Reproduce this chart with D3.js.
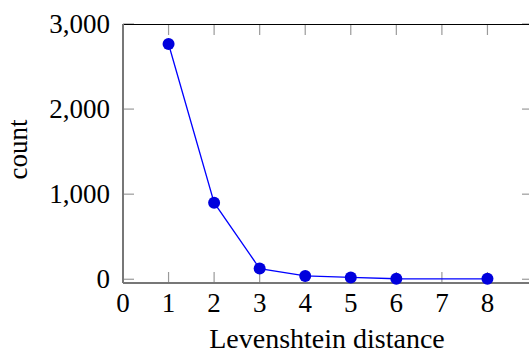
<html lang="en">
<head>
    <meta charset="UTF-8">
    <title>Levenshtein distance counts</title>
    <script src="https://d3js.org/d3.v7.min.js"></script>
    <style>
        body { margin: 0; background: #fff; }
        svg { font-family: "Liberation Serif", "DejaVu Serif", serif; }
    </style>
</head>
<body>
    <script>
        // data
        const distances = [1, 2, 3, 4, 5, 6, 8];
        const counts = [2765, 900, 126, 39, 22, 6, 5];
        const xTicks = [0, 1, 2, 3, 4, 5, 6, 7, 8];
        const yTicks = [0, 1000, 2000, 3000];

        const width = 529, height = 354;
        const margin = { top: 24, right: -4, bottom: 71, left: 123 };

        const x = d3.scaleLinear()
            .domain([0, 9])
            .range([margin.left, width - margin.right]);

        const y = d3.scaleLinear()
            .domain([-44, 3000])
            .range([height - margin.bottom, margin.top]);

        const svg = d3.select("body").append("svg")
            .attr("width", width)
            .attr("height", height);

        const xLeft = margin.left, xRight = width - margin.right;
        const yTop = margin.top, yBottom = height - margin.bottom;
        const tickLen = 11;

        // ticks (inward, on all four sides)
        const ticks = svg.append("g").attr("stroke", "#9a9a9a").attr("stroke-width", 1.2);
        ticks.append("g").selectAll("line").data(xTicks).join("line")
            .attr("x1", d => x(d)).attr("x2", d => x(d))
            .attr("y1", yBottom).attr("y2", yBottom - tickLen);
        ticks.append("g").selectAll("line").data(xTicks).join("line")
            .attr("x1", d => x(d)).attr("x2", d => x(d))
            .attr("y1", yTop).attr("y2", yTop + tickLen);
        ticks.append("g").selectAll("line").data(yTicks).join("line")
            .attr("x1", xLeft).attr("x2", xLeft + tickLen)
            .attr("y1", d => y(d)).attr("y2", d => y(d));
        ticks.append("g").selectAll("line").data(yTicks).join("line")
            .attr("x1", xRight).attr("x2", xRight - tickLen)
            .attr("y1", d => y(d)).attr("y2", d => y(d));

        // frame
        svg.append("line").attr("x1", xLeft).attr("x2", xRight)
            .attr("y1", yTop + 0.5).attr("y2", yTop + 0.5)
            .attr("stroke", "#000").attr("stroke-width", 1.2);
        svg.append("line").attr("x1", xRight).attr("x2", xRight)
            .attr("y1", yTop).attr("y2", yBottom)
            .attr("stroke", "#000").attr("stroke-width", 1.2);
        svg.append("line").attr("x1", xLeft).attr("x2", xLeft)
            .attr("y1", yTop).attr("y2", yBottom)
            .attr("stroke", "#777").attr("stroke-width", 2);
        svg.append("line").attr("x1", xLeft).attr("x2", xRight)
            .attr("y1", yBottom).attr("y2", yBottom)
            .attr("stroke", "#777").attr("stroke-width", 2);

        // tick labels
        svg.append("g").selectAll("text").data(xTicks).join("text")
            .attr("x", d => x(d))
            .attr("y", 312)
            .attr("text-anchor", "middle")
            .style("font-size", "27px")
            .text(d => d);

        svg.append("g").selectAll("text").data(yTicks).join("text")
            .attr("x", 110)
            .attr("y", d => y(d))
            .attr("dy", "0.34em")
            .attr("text-anchor", "end")
            .style("font-size", "27px")
            .text(d => d3.format(",")(d));

        // line and markers
        const pts = distances.map((d, i) => [d, counts[i]]);
        svg.append("path")
            .datum(pts)
            .attr("fill", "none")
            .attr("stroke", "#0000ff")
            .attr("stroke-width", 1.3)
            .attr("d", d3.line().x(d => x(d[0])).y(d => y(d[1])));

        svg.append("g").selectAll("circle").data(pts).join("circle")
            .attr("cx", d => x(d[0]))
            .attr("cy", d => y(d[1]))
            .attr("r", 6)
            .attr("fill", "#0000dd");

        // axis titles
        svg.append("text")
            .attr("x", (xLeft + 531) / 2)
            .attr("y", 348)
            .attr("text-anchor", "middle")
            .style("font-size", "28px")
            .text("Levenshtein distance");

        svg.append("text")
            .attr("transform", `translate(27,${(yTop + yBottom) / 2 - 4}) rotate(-90)`)
            .attr("text-anchor", "middle")
            .style("font-size", "27px")
            .text("count");
    </script>
</body>
</html>
